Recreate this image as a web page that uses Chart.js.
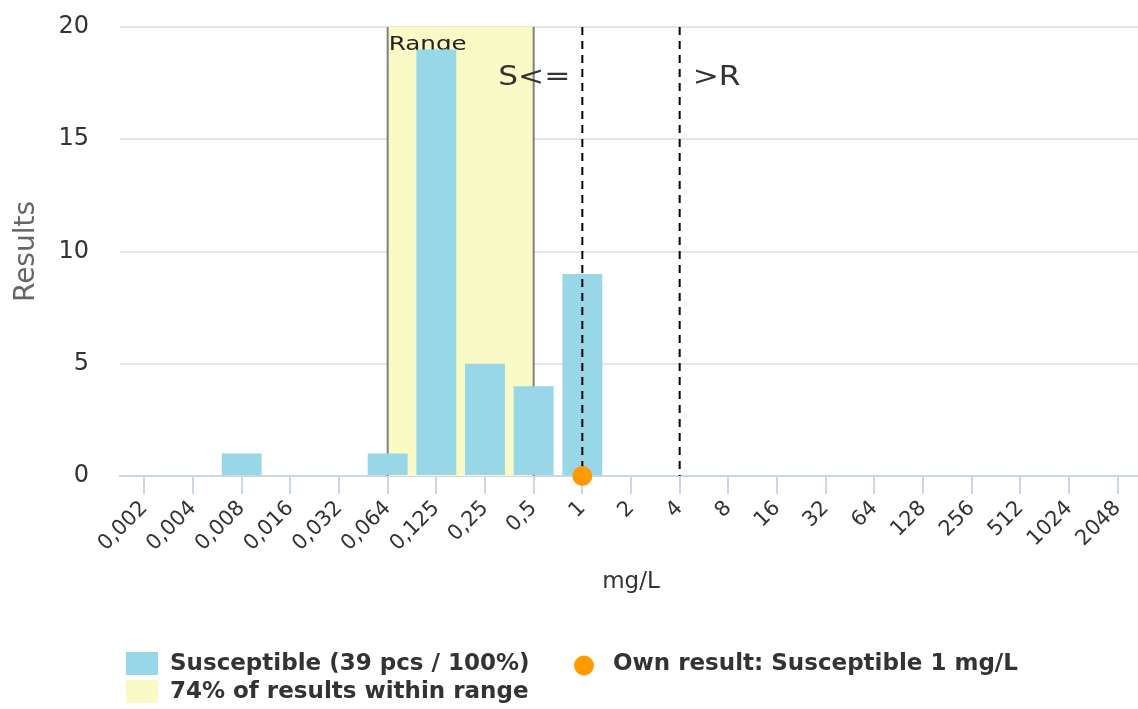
<!DOCTYPE html>
<html><head><meta charset="utf-8">
<script src="https://cdn.jsdelivr.net/npm/chart.js@4.4.1/dist/chart.umd.min.js"></script>
<style>html,body{margin:0;padding:0;background:#fff;overflow:hidden;} #wrap{position:relative;width:1142px;height:709px;}</style>
</head><body><div id="wrap"><canvas id="c" width="1142" height="709"></canvas></div>
<script>
// ---- data ----
const categories = ['0,002','0,004','0,008','0,016','0,032','0,064','0,125','0,25','0,5','1','2','4','8','16','32','64','128','256','512','1024','2048'];
const susceptibleCounts = [0,0,1,0,0,1,19,5,4,9,0,0,0,0,0,0,0,0,0,0,0];
const yTickValues = [0,5,10,15,20];
const rangeCategories = ['0,064','0,5'];
const rangeLabel = 'Range';
const breakpointSCategory = '1';
const breakpointSLabel = 'S<=';
const breakpointRCategory = '4';
const breakpointRLabel = '>R';
const ownResultCategory = '1';
const ownResultValue = 0;
const seriesLabels = ['Susceptible (39 pcs / 100%)', '74% of results within range', 'Own result: Susceptible 1 mg/L'];
const xAxisTitle = 'mg/L';
const yAxisTitle = 'Results';

const FONT = "'DejaVu Sans', sans-serif";
const BAR = '#98d7e8', BAND = '#fafac6', DOT = '#ff9a00';
Chart.defaults.font.family = FONT;

function hText(ctx, text, x, y, align, font, color, sx){
  ctx.save();
  ctx.translate(x, y);
  ctx.scale(sx, 1);
  ctx.font = font; ctx.fillStyle = color; ctx.textAlign = align; ctx.textBaseline = 'alphabetic';
  ctx.fillText(text, 0, 0);
  ctx.restore();
}

const annot = {
  id: 'annot',
  beforeDatasetsDraw(chart){
    const {ctx, chartArea:a, scales:{x}} = chart;
    const x1 = x.getPixelForValue(categories.indexOf(rangeCategories[0]));
    const x2 = x.getPixelForValue(categories.indexOf(rangeCategories[1]));
    ctx.save();
    ctx.fillStyle = BAND;
    ctx.fillRect(x1, a.top, x2 - x1, a.bottom - a.top);
    ctx.strokeStyle = '#808080'; ctx.lineWidth = 2;
    ctx.beginPath();
    ctx.moveTo(x1, a.top); ctx.lineTo(x1, a.bottom);
    ctx.moveTo(x2, a.top); ctx.lineTo(x2, a.bottom);
    ctx.stroke();
    ctx.restore();
    hText(ctx, rangeLabel, x1 + 1, a.top + 23, 'left', '20px ' + FONT, '#222', 1.23);
  },
  afterDatasetDraw(chart, args){
    if (args.meta.type !== 'bar') return;
    const {ctx, chartArea:a, scales:{x}} = chart;
    const sx = x.getPixelForValue(categories.indexOf(breakpointSCategory));
    const rx = x.getPixelForValue(categories.indexOf(breakpointRCategory));
    ctx.save();
    ctx.strokeStyle = '#000'; ctx.lineWidth = 2; ctx.setLineDash([8,6]);
    ctx.beginPath();
    ctx.moveTo(sx, a.top); ctx.lineTo(sx, a.bottom);
    ctx.moveTo(rx, a.top); ctx.lineTo(rx, a.bottom);
    ctx.stroke();
    ctx.restore();
    hText(ctx, breakpointSLabel, sx - 12, a.top + 58, 'right', '26px ' + FONT, '#333', 1.2);
    hText(ctx, breakpointRLabel, rx + 13, a.top + 58, 'left', '26px ' + FONT, '#333', 1.2);
  },
  afterDraw(chart){
    const ctx = chart.ctx;
    ctx.save();
    ctx.font = 'bold 23px ' + FONT; ctx.fillStyle = '#333'; ctx.textBaseline = 'middle'; ctx.textAlign = 'left';
    ctx.fillStyle = BAR; ctx.fillRect(126, 652, 32, 23);
    ctx.fillStyle = BAND; ctx.fillRect(126, 680, 32, 23);
    ctx.fillStyle = '#333';
    ctx.fillText(seriesLabels[0], 170, 664);
    ctx.fillText(seriesLabels[1], 170, 692);
    ctx.fillStyle = DOT; ctx.beginPath(); ctx.arc(584, 665.5, 10, 0, Math.PI*2); ctx.fill();
    ctx.fillStyle = '#333';
    ctx.fillText(seriesLabels[2], 613, 664);
    ctx.restore();
  }
};

new Chart(document.getElementById('c'), {
  type: 'bar',
  data: {
    labels: categories,
    datasets: [
      { type: 'line', label: seriesLabels[2], data: [{x: ownResultCategory, y: ownResultValue}],
        showLine: false, pointRadius: 10, pointHoverRadius: 10, pointBackgroundColor: DOT, pointBorderWidth: 0,
        borderColor: DOT, clip: false, order: 0 },
      { label: seriesLabels[0], data: susceptibleCounts, backgroundColor: BAR, borderWidth: 0,
        barPercentage: 0.82, categoryPercentage: 1.0, order: 1 }
    ]
  },
  options: {
    responsive: false, devicePixelRatio: 1, animation: false,
    layout: { autoPadding: false, padding: { top: 27, right: 0, bottom: 100, left: 0 } },
    plugins: { legend: { display: false }, tooltip: { enabled: false } },
    scales: {
      x: {
        type: 'category', offset: true,
        grid: { drawOnChartArea: false, drawTicks: true, tickLength: 18, color: '#ccd6eb', lineWidth: 2, offset: false },
        border: { display: true, color: '#ccd6eb', width: 2 },
        ticks: { autoSkip: false, maxRotation: 45, minRotation: 45, font: { size: 21 }, color: '#333', padding: 2 },
        title: { display: true, text: xAxisTitle, color: '#333', font: { size: 23 }, padding: { top: 0, bottom: 13 } },
        afterFit(s){ s.height = 133; s.paddingLeft = 0; s.paddingRight = 0; }
      },
      y: {
        min: yTickValues[0], max: yTickValues[yTickValues.length - 1],
        afterBuildTicks(s){ s.ticks = yTickValues.map(v => ({value: v})); },
        grid: { color: '#e6e6e6', lineWidth: 2, drawTicks: false },
        border: { display: false },
        ticks: { font: { size: 24 }, color: '#333', padding: 31 },
        title: { display: true, text: yAxisTitle, color: '#666', font: { size: 28 }, padding: { top: 10, bottom: 0 } },
        afterFit(s){ s.width = 120; s.paddingTop = 0; s.paddingBottom = 0; }
      }
    }
  },
  plugins: [annot]
});
</script>
</body></html>
